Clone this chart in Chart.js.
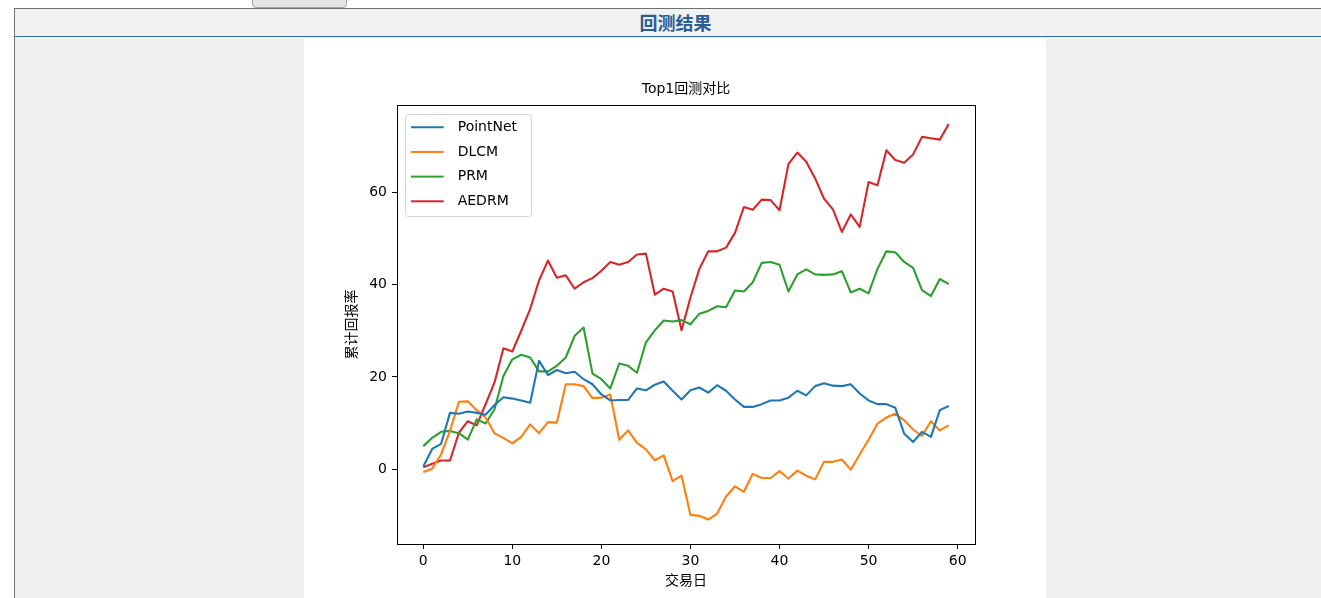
<!DOCTYPE html>
<html>
<head>
<meta charset="utf-8">
<title>回测结果</title>
<script src="https://cdn.jsdelivr.net/npm/chart.js@4.4.1/dist/chart.umd.min.js"></script>
<style>
  body { margin: 0; width: 1321px; height: 598px; overflow: hidden; background: #fff; position: relative; }
  .btn { position: absolute; left: 252px; top: -6px; width: 93px; height: 12px; background: #e5e5e5; border: 1px solid #a3a3a3; border-radius: 4px; }
  .frame { position: absolute; left: 14px; top: 8px; width: 1320px; height: 600px; border-left: 1px solid #707070; border-top: 1px solid #707070; background: #f0f0f0; }
  .head { height: 27px; border-bottom: 1px solid #2f6db3; background: #f2f2f2; color: #2b5c99; font: bold 18px "Noto Sans CJK SC", sans-serif; line-height: 27px; text-align: center; }
  .head span { position: absolute; left: 0; width: 1321px; text-align: center; }
  .panel { position: absolute; left: 289px; top: 29px; width: 742px; height: 570px; background: #fff; }
  .box { position: relative; width: 742px; height: 570px; }
</style>
</head>
<body>
<div class="btn"></div>
<div class="frame">
  <div class="head"><span>回测结果</span></div>
  <div class="panel">
    <div class="box"><canvas id="chart"></canvas></div>
  </div>
</div>
<script>
// 交易日 0..59
const days = Array.from({ length: 60 }, (_, i) => i);

// 各模型累计回报率
const pointNet = [0.6, 4.4, 5.5, 12.2, 12.0, 12.5, 12.2, 11.8, 13.9, 15.6,
  15.3, 14.9, 14.4, 23.5, 20.4, 21.5, 20.8, 21.1, 19.5, 18.4,
  16.2, 14.9, 15.0, 15.0, 17.5, 17.1, 18.3, 19.0, 17.0, 15.1,
  17.1, 17.7, 16.6, 18.2, 17.0, 15.1, 13.5, 13.5, 14.1, 14.9,
  14.9, 15.5, 17.0, 16.0, 18.0, 18.6, 18.1, 18.0, 18.4, 16.4,
  14.9, 14.1, 14.1, 13.3, 7.7, 5.9, 8.1, 7.0, 12.8, 13.7];
const dlcm = [-0.6, 0.1, 3.2, 8.3, 14.6, 14.7, 12.8, 11.2, 7.8, 6.8,
  5.6, 7.0, 9.7, 7.8, 10.2, 10.1, 18.4, 18.4, 18.0, 15.4,
  15.5, 16.2, 6.4, 8.4, 5.7, 4.3, 1.9, 3.0, -2.6, -1.4,
  -9.9, -10.1, -10.9, -9.6, -5.9, -3.7, -4.9, -1.0, -1.9, -1.9,
  -0.4, -2.0, -0.3, -1.4, -2.2, 1.6, 1.6, 2.1, -0.1, 3.2,
  6.4, 9.9, 11.2, 12.0, 10.6, 8.6, 7.2, 10.4, 8.4, 9.5];
const prm = [5.0, 6.8, 8.1, 8.3, 7.8, 6.4, 10.8, 9.9, 13.0, 20.2,
  23.8, 24.8, 24.2, 21.2, 21.2, 22.4, 24.2, 28.9, 30.7, 20.7,
  19.5, 17.5, 22.9, 22.4, 20.9, 27.5, 30.1, 32.2, 32.0, 32.3,
  31.4, 33.7, 34.3, 35.3, 35.1, 38.7, 38.5, 40.5, 44.7, 44.9,
  44.3, 38.5, 42.2, 43.3, 42.2, 42.1, 42.2, 42.9, 38.3, 39.1,
  38.1, 43.4, 47.2, 47.0, 44.9, 43.6, 38.8, 37.5, 41.2, 40.1];
const aedrm = [0.4, 1.2, 1.9, 1.9, 7.9, 10.4, 9.5, 14.1, 18.8, 26.2,
  25.5, 30.0, 34.7, 40.9, 45.2, 41.5, 42.0, 39.1, 40.5, 41.4,
  43.0, 44.9, 44.3, 44.9, 46.5, 46.7, 37.8, 39.1, 38.5, 30.1,
  37.2, 43.4, 47.2, 47.2, 48.0, 51.2, 56.8, 56.2, 58.4, 58.3,
  56.1, 66.1, 68.6, 66.6, 63.0, 58.6, 56.3, 51.4, 55.2, 52.5,
  62.2, 61.5, 69.1, 67.0, 66.4, 68.2, 72.0, 71.7, 71.4, 74.8];

const seriesNames = ['PointNet', 'DLCM', 'PRM', 'AEDRM'];
const seriesColors = ['#1f77b4', '#ff7f0e', '#2ca02c', '#d62728'];
const seriesValues = [pointNet, dlcm, prm, aedrm];

const xTicks = [0, 10, 20, 30, 40, 50, 60];
const yTicks = [0, 20, 40, 60];

const FONT = '"DejaVu Sans", "Noto Sans CJK SC", sans-serif';
Chart.defaults.font.family = FONT;
Chart.defaults.font.size = 14;
Chart.defaults.color = '#000';

// 图例的线段样式（matplotlib 风格）
function makeHandle(color) {
  const c = document.createElement('canvas');
  c.width = 40;
  c.height = 4;
  const g = c.getContext('2d');
  g.strokeStyle = color;
  g.lineWidth = 2;
  g.beginPath();
  g.moveTo(0, 2);
  g.lineTo(33, 2);
  g.stroke();
  return c;
}
const handles = seriesColors.map(makeHandle);

// 标题居中于绘图区、图例放进绘图区左上角，并画外框
const framePlugin = {
  id: 'framePlugin',
  afterLayout(chart) {
    const area = chart.chartArea;
    const lg = chart.legend;
    const h = lg.bottom - lg.top;
    lg.left = area.left + 3;
    lg.top = area.top + 4.5;
    lg.bottom = lg.top + h;
    const tb = chart.titleBlock;
    tb.left = area.left;
    tb.right = area.right;
    tb.width = area.right - area.left;
  },
  beforeDraw(chart) {
    const { ctx, chartArea } = chart;
    ctx.save();
    ctx.fillStyle = 'rgba(255,255,255,0.8)';
    ctx.strokeStyle = '#d4d4d4';
    ctx.lineWidth = 1;
    ctx.beginPath();
    ctx.roundRect(chartArea.left + 8.5, chartArea.top + 9.5, 126, 102, 3);
    ctx.fill();
    ctx.stroke();
    ctx.restore();
  },
  afterDraw(chart) {
    const { ctx, chartArea } = chart;
    ctx.save();
    ctx.strokeStyle = '#000';
    ctx.lineWidth = 1;
    ctx.strokeRect(Math.round(chartArea.left) + 0.5, Math.round(chartArea.top) + 0.5,
      Math.round(chartArea.right - chartArea.left), Math.round(chartArea.bottom - chartArea.top));
    ctx.restore();
  }
};

const ctx = document.getElementById('chart').getContext('2d');
new Chart(ctx, {
  type: 'line',
  data: {
    datasets: seriesNames.map((name, k) => ({
      label: name,
      data: days.map((d, i) => ({ x: d, y: seriesValues[k][i] })),
      borderColor: seriesColors[k],
      backgroundColor: seriesColors[k],
      borderWidth: 2.1,
      pointRadius: 0,
      tension: 0,
      borderJoinStyle: 'round',
      fill: false
    }))
  },
  options: {
    responsive: true,
    maintainAspectRatio: false,
    animation: false,
    events: [],
    layout: { padding: { left: 0, right: 71, top: 0, bottom: 0 } },
    plugins: {
      title: {
        display: true,
        text: 'Top1回测对比',
        font: { size: 14, weight: 'normal' },
        color: '#000',
        padding: { top: 43.2, bottom: 7 }
      },
      legend: {
        position: 'chartArea',
        align: 'start',
        labels: {
          usePointStyle: true,
          boxWidth: 40,
          pointStyleWidth: 40,
          padding: 10.7,
          color: '#000',
          font: { size: 14 },
          generateLabels(chart) {
            const items = Chart.defaults.plugins.legend.labels.generateLabels(chart);
            items.forEach((it, i) => { it.pointStyle = handles[i]; });
            return items;
          }
        }
      },
      tooltip: { enabled: false }
    },
    scales: {
      x: {
        type: 'linear',
        min: -2.95,
        max: 61.95,
        afterFit(scale) { scale.height = 64; },
        afterBuildTicks(scale) { scale.ticks = xTicks.map(v => ({ value: v })); },
        ticks: { stepSize: 10, includeBounds: false, padding: 4, maxRotation: 0, autoSkip: false, color: '#000' },
        grid: { display: true, drawOnChartArea: false, drawTicks: true, tickLength: 5, tickColor: '#000', tickWidth: 1 },
        border: { display: false },
        title: { display: true, text: '交易日', font: { size: 14 }, color: '#000', padding: { top: 0, bottom: 18.6 } }
      },
      y: {
        type: 'linear',
        min: -16.2,
        max: 78.9,
        afterFit(scale) { scale.width = 93; },
        afterBuildTicks(scale) { scale.ticks = yTicks.map(v => ({ value: v })); },
        ticks: { stepSize: 20, includeBounds: false, padding: 5, color: '#000' },
        grid: { display: true, drawOnChartArea: false, drawTicks: true, tickLength: 5, tickColor: '#000', tickWidth: 1 },
        border: { display: false },
        title: { display: true, text: '累计回报率', font: { size: 14 }, color: '#000', padding: { top: 39.6, bottom: 0 } }
      }
    }
  },
  plugins: [framePlugin]
});
</script>
</body>
</html>
